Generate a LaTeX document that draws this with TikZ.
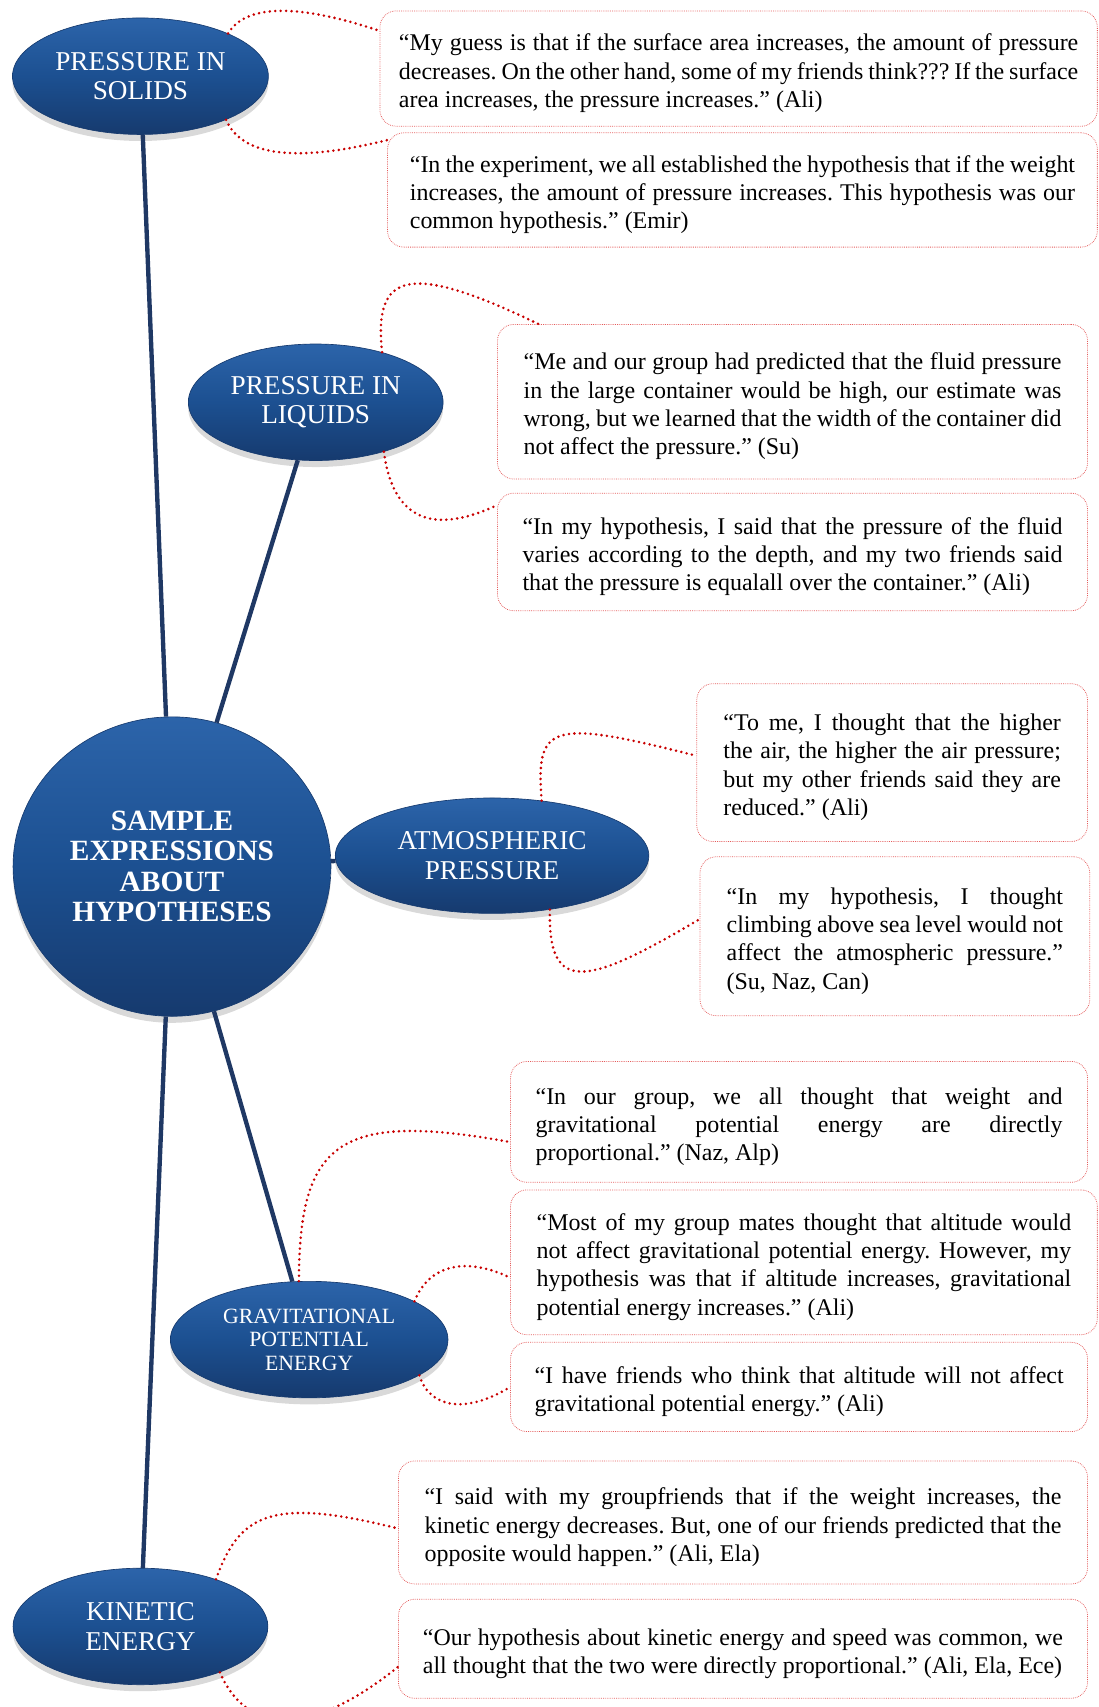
\documentclass[tikz,border=0pt]{standalone}
\usepackage{fontspec}
\setmainfont{Liberation Serif}
\usetikzlibrary{shapes.geometric,shadows}

\definecolor{navy}{RGB}{31,56,100}
\definecolor{ovaltop}{RGB}{44,100,170}
\definecolor{ovalmid}{RGB}{28,80,145}
\definecolor{ovalbot}{RGB}{22,58,110}
\definecolor{linkred}{RGB}{200,0,0}
\definecolor{boxred}{RGB}{228,90,90}

\newcommand{\quotefont}{\fontsize{22}{26}\selectfont\frenchspacing\tolerance=10000 }

\begin{document}
\begin{tikzpicture}[x=1pt,y=-1pt,
    topic/.style={ellipse, inner sep=0pt, top color=ovaltop, bottom color=ovalbot, middle color=ovalmid,
        draw=ovalbot, line width=0.6pt, text=white, align=center,
        font=\fontsize{25}{27}\selectfont,
        drop shadow={shadow xshift=0pt, shadow yshift=-6pt, opacity=0.3}},
    hub/.style={topic, font=\fontsize{27}{28}\selectfont\bfseries},
    quote/.style={draw=boxred, densely dotted, line width=0.7pt, rounded corners=15pt,
        inner xsep=0pt, inner ysep=0pt, align=justify, font=\quotefont,
        execute at begin node={\rule{0pt}{24pt}}},
    spoke/.style={navy, line width=4pt},
    link/.style={linkred, line width=2.6pt, line cap=round, dash pattern=on 0pt off 5pt}]
    \useasboundingbox (0,0) rectangle (1009,1568);

    % topics
    \node[hub, minimum width=292pt, minimum height=275pt] (hub) at (158,796) {SAMPLE\\EXPRESSIONS\\ABOUT\\HYPOTHESES};
    \node[topic, minimum width=235pt, minimum height=107pt] (solids) at (129,70) {PRESSURE IN\\SOLIDS};
    \node[topic, minimum width=234pt, minimum height=107pt] (liquids) at (290,369.5) {PRESSURE IN\\LIQUIDS};
    \node[topic, minimum width=288pt, minimum height=106pt] (atmos) at (452,786) {ATMOSPHERIC\\PRESSURE};
    \node[topic, minimum width=255pt, minimum height=107pt, font=\fontsize{20}{21.5}\selectfont] (grav) at (284,1230.5) {GRAVITATIONAL\\POTENTIAL\\ENERGY};
    \node[topic, minimum width=234pt, minimum height=107pt] (kinetic) at (129,1494) {KINETIC\\ENERGY};

    \draw[spoke] (hub) -- (solids);
    \draw[spoke] (hub) -- (liquids);
    \draw[spoke] (hub) -- (atmos);
    \draw[spoke] (hub) -- (grav);
    \draw[spoke] (hub) -- (kinetic);

    % quotes
    \node[quote, minimum width=659pt, minimum height=106pt, text width=624pt] (q1) at (678.5,63)
        {“My guess is that if the surface area increases, the amount of pressure \linebreak decreases. On the other hand, some of my friends think??? If the surface \linebreak area increases, the pressure increases.” (Ali)};
    \node[quote, minimum width=652pt, minimum height=105pt, text width=611pt] (q2) at (682,174.5)
        {“In the experiment, we all established the hypothesis that if the weight \linebreak increases, the amount of pressure increases. This hypothesis was our \linebreak common hypothesis.” (Emir)};
    \node[quote, minimum width=542pt, minimum height=142pt, text width=494pt] (q3) at (728,369)
        {“Me and our group had predicted that the fluid pressure \linebreak in the large container would be high, our estimate was \linebreak wrong, but we learned that the width of the container did \linebreak not affect the pressure.” (Su)};
    \node[quote, minimum width=542pt, minimum height=108pt, text width=496pt] (q4) at (728,507)
        {“In my hypothesis, I said that the pressure of the fluid \linebreak varies according to the depth, and my two friends said \linebreak that the pressure is equalall over the container.” (Ali)};
    \node[quote, minimum width=359pt, minimum height=145pt, text width=310pt] (q5) at (819.5,700.5)
        {“To me, I thought that the higher \linebreak the air, the higher the air pressure; \linebreak but my other friends said they are \linebreak reduced.” (Ali)};
    \node[quote, minimum width=358pt, minimum height=146pt, text width=309pt] (q6) at (822,860)
        {“In my hypothesis, I thought \linebreak climbing above sea level would not \linebreak affect the atmospheric pressure.” \linebreak (Su, Naz, Can)};
    \node[quote, minimum width=530pt, minimum height=111pt, text width=484pt] (q7) at (734,1030.5)
        {“In our group, we all thought that weight and \linebreak gravitational potential energy are directly \linebreak proportional.” (Naz, Alp)};
    \node[quote, minimum width=539pt, minimum height=133pt, text width=491pt] (q8) at (738.5,1159.5)
        {“Most of my group mates thought that altitude would \linebreak not affect gravitational potential energy. However, my \linebreak hypothesis was that if altitude increases, gravitational \linebreak potential energy increases.” (Ali)};
    \node[quote, minimum width=530pt, minimum height=82pt, text width=486pt] (q9) at (734,1274)
        {“I have friends who think that altitude will not affect \linebreak gravitational potential energy.” (Ali)};
    \node[quote, minimum width=633pt, minimum height=113pt, text width=585pt] (q10) at (682.5,1398.5)
        {“I said with my groupfriends that if the weight increases, the \linebreak kinetic energy decreases. But, one of our friends predicted that the \linebreak opposite would happen.” (Ali, Ela)};
    \node[quote, minimum width=633pt, minimum height=91pt, text width=588pt] (q11) at (682.5,1514.5)
        {“Our hypothesis about kinetic energy and speed was common, we \linebreak all thought that the two were directly proportional.” (Ali, Ela, Ece)};

    % dotted links
    \draw[link] (solids.26) .. controls (225,5) and (270,2) .. (q1.174);
    \draw[link] (solids.333) .. controls (225,150) and (290,145) .. (q2.172);
    \draw[link] (liquids.37) .. controls (343,250) and (375,240) .. (q3.163);
    \draw[link] (liquids.324) .. controls (360,470) and (390,495) .. (q4.171);
    \draw[link] (atmos.48) .. controls (492,665) and (505,660) .. (q5.178);
    \draw[link] (atmos.317) .. controls (503,915) and (540,905) .. (q6.175);
    \draw[link] (grav.100) .. controls (275,1050) and (310,1020) .. (q7.184);
    \draw[link] (grav.20) .. controls (395,1160) and (430,1155) .. (q8.183);
    \draw[link] (grav.342) .. controls (395,1295) and (430,1298) .. (q9.180);
    \draw[link] (kinetic.32) .. controls (220,1390) and (250,1375) .. (q10.181);
    \draw[link] (kinetic.330) .. controls (225,1590) and (280,1600) .. (q11.183);
\end{tikzpicture}
\end{document}
